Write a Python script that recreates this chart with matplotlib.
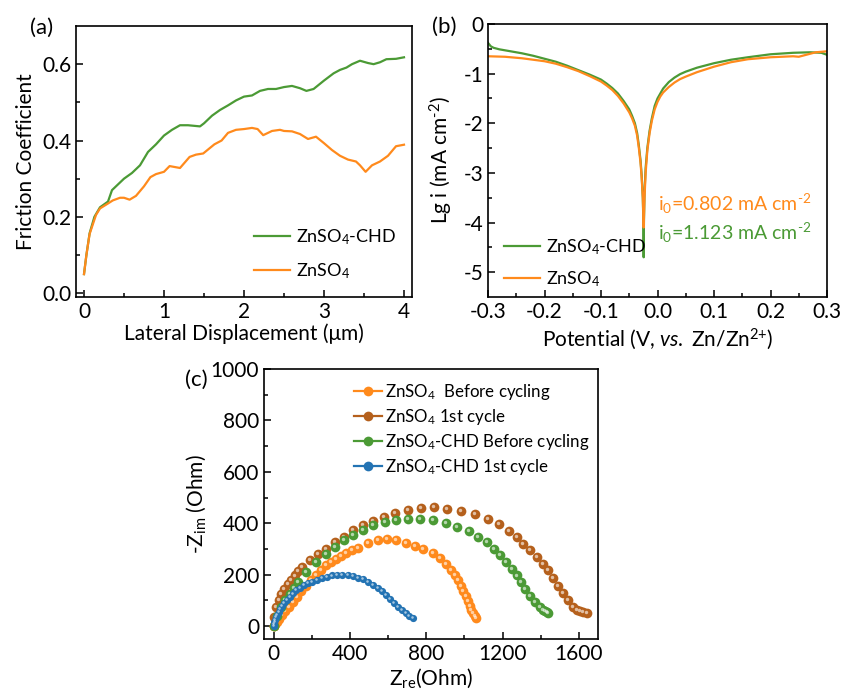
import matplotlib
matplotlib.use("Agg")
import matplotlib.pyplot as plt
import matplotlib.transforms as mtransforms
from matplotlib.lines import Line2D

plt.rcParams['font.family'] = ['Lato', 'DejaVu Sans']
plt.rcParams['mathtext.fontset'] = 'custom'
plt.rcParams['mathtext.rm'] = 'Lato'
plt.rcParams['mathtext.it'] = 'Lato:italic'
plt.rcParams['mathtext.bf'] = 'Lato:bold'

GREEN = '#4B9A35'
ORANGE = '#FF8A1C'
BROWN = '#B5601C'
BLUE = '#2373B3'

# ---------- (a) friction coefficient ----------
fa_x_green = [0, 0.03, 0.07, 0.13, 0.2, 0.3, 0.35, 0.45, 0.5, 0.6, 0.7, 0.8, 0.9, 1.0, 1.1, 1.2, 1.3,
              1.45, 1.5, 1.6, 1.7, 1.8, 1.9, 2.0, 2.1, 2.2, 2.3, 2.4, 2.5, 2.6, 2.7, 2.78, 2.87, 3.0,
              3.12, 3.2, 3.28, 3.35, 3.45, 3.55, 3.62, 3.7, 3.78, 3.9, 4.0]
fa_y_green = [0.05, 0.10, 0.157, 0.20, 0.225, 0.24, 0.27, 0.29, 0.30, 0.315, 0.335, 0.37, 0.39, 0.413,
              0.428, 0.44, 0.44, 0.437, 0.445, 0.465, 0.48, 0.492, 0.505, 0.515, 0.518, 0.53, 0.535,
              0.535, 0.54, 0.543, 0.537, 0.53, 0.535, 0.557, 0.576, 0.585, 0.591, 0.60, 0.609, 0.603,
              0.60, 0.605, 0.613, 0.614, 0.618]
fa_x_orange = [0, 0.03, 0.07, 0.15, 0.2, 0.3, 0.36, 0.45, 0.5, 0.57, 0.65, 0.75, 0.83, 0.9, 1.0, 1.07,
               1.2, 1.32, 1.4, 1.49, 1.63, 1.72, 1.8, 1.9, 2.0, 2.1, 2.17, 2.24, 2.35, 2.45, 2.5, 2.6,
               2.7, 2.8, 2.9, 3.0, 3.1, 3.2, 3.3, 3.4, 3.45, 3.52, 3.6, 3.7, 3.8, 3.9, 4.0]
fa_y_orange = [0.05, 0.10, 0.155, 0.205, 0.222, 0.235, 0.243, 0.25, 0.25, 0.245, 0.255, 0.28, 0.304,
               0.312, 0.318, 0.333, 0.328, 0.357, 0.363, 0.366, 0.39, 0.40, 0.42, 0.428, 0.43, 0.433,
               0.43, 0.414, 0.425, 0.428, 0.425, 0.424, 0.417, 0.404, 0.41, 0.393, 0.375, 0.36, 0.35,
               0.345, 0.335, 0.318, 0.335, 0.345, 0.36, 0.385, 0.389]

# ---------- (b) Tafel ----------
fb_x_green = [-0.3, -0.295, -0.29, -0.28, -0.26, -0.24, -0.22, -0.2, -0.18, -0.16, -0.14, -0.12, -0.1,
              -0.09, -0.08, -0.07, -0.06, -0.05, -0.045, -0.04, -0.036, -0.033, -0.03, -0.028, -0.026,
              -0.025, -0.0245, -0.024, -0.023, -0.021, -0.018, -0.014, -0.01, -0.005, 0.0, 0.005, 0.01,
              0.02, 0.03, 0.04, 0.05, 0.07, 0.1, 0.13, 0.16, 0.2, 0.24, 0.27, 0.29, 0.3]
fb_y_green = [-0.38, -0.45, -0.48, -0.51, -0.55, -0.59, -0.64, -0.70, -0.76, -0.84, -0.93, -1.02, -1.12,
              -1.2, -1.29, -1.4, -1.55, -1.72, -1.85, -2.0, -2.2, -2.45, -2.75, -3.05, -3.5,
              -4.0, -4.7, -4.0, -3.4, -2.9, -2.5, -2.15, -1.9, -1.65, -1.5, -1.4, -1.3,
              -1.17, -1.08, -1.01, -0.96, -0.88, -0.79, -0.72, -0.67, -0.61, -0.58, -0.57, -0.58, -0.62]
fb_x_orange = [-0.3, -0.27, -0.24, -0.2, -0.18, -0.16, -0.14, -0.12, -0.1, -0.09, -0.08, -0.07, -0.06,
               -0.05, -0.045, -0.04, -0.036, -0.033, -0.03, -0.028, -0.026, -0.0245, -0.023, -0.021,
               -0.018, -0.014, -0.01, -0.005, 0.0, 0.005, 0.01, 0.02, 0.03, 0.04, 0.05, 0.07, 0.1,
               0.13, 0.16, 0.2, 0.24, 0.25, 0.26, 0.28, 0.3]
fb_y_orange = [-0.65, -0.66, -0.69, -0.75, -0.8, -0.87, -0.95, -1.05, -1.16, -1.24, -1.33, -1.45, -1.6,
               -1.78, -1.9, -2.05, -2.25, -2.5, -2.8, -3.1, -3.5, -4.1, -3.5, -3.0,
               -2.55, -2.2, -1.95, -1.72, -1.57, -1.46, -1.38, -1.27, -1.18, -1.11, -1.06, -0.97, -0.86,
               -0.77, -0.71, -0.67, -0.65, -0.66, -0.63, -0.57, -0.55]

# ---------- (c) Nyquist ----------
c_x_orange = [0, 8, 18, 30, 45, 62, 80, 100, 122, 145, 170, 196, 222, 249, 276, 303, 329, 355, 381,
              410, 442, 495, 547, 596, 643, 696, 743, 783, 836, 871, 906, 930, 950, 967, 982, 995,
              1007, 1018, 1028, 1037, 1046, 1055, 1063]
c_y_orange = [0, 8, 17, 28, 42, 58, 75, 94, 114, 135, 157, 178, 198, 218, 237, 250, 262, 274, 284,
              295, 303, 325, 335, 339, 335, 322, 313, 300, 283, 265, 240, 218, 198, 178, 158, 138,
              118, 98, 80, 64, 50, 40, 33]
c_x_brown = [0, 5, 14, 26, 40, 57, 75, 92, 110, 130, 150, 189, 233, 276, 320, 367, 416, 469, 521, 579,
             638, 705, 771, 841, 911, 984, 1058, 1124, 1182, 1234, 1273, 1308, 1343, 1378, 1413, 1439,
             1465, 1492, 1518, 1544, 1570, 1590, 1605, 1622, 1640]
c_y_brown = [0, 37, 74, 100, 126, 146, 165, 181, 197, 214, 230, 256, 282, 301, 327, 347, 373, 392, 408,
             425, 440, 451, 460, 464, 457, 447, 438, 418, 396, 370, 347, 321, 295, 269, 240, 217, 188,
             158, 130, 100, 74, 64, 58, 54, 51]
c_x_green = [0, 20, 40, 62, 84, 106, 128, 171, 224, 276, 320, 367, 416, 469, 521, 582, 640, 705, 766,
             836, 901, 963, 1025, 1072, 1116, 1154, 1186, 1217, 1247, 1273, 1296, 1317, 1343, 1369,
             1395, 1410, 1421, 1432, 1439]
c_y_green = [0, 38, 74, 100, 126, 149, 171, 210, 249, 282, 308, 334, 353, 375, 392, 405, 414, 418, 418,
             414, 403, 386, 369, 347, 327, 301, 275, 249, 223, 197, 171, 145, 119, 94, 74, 64, 58, 54,
             51]
c_x_blue = [0, 2, 5, 9, 14, 20, 27, 35, 45, 57, 70, 85, 101, 119, 138, 158, 180, 203, 227, 252, 278,
            305, 333, 360, 388, 416, 444, 471, 497, 521, 545, 568, 591, 612, 632, 652, 672, 692, 712,
            731]
c_y_blue = [0, 7, 15, 24, 34, 45, 56, 67, 79, 91, 103, 115, 127, 139, 150, 160, 167, 172, 180, 187,
            193, 197, 199, 199, 198, 195, 189, 182, 172, 161, 149, 135, 120, 105, 90, 76, 63, 51, 41,
            33]

fig = plt.figure(figsize=(8.42, 6.96), dpi=100)
W, H = 842, 696
TICK_FS = 15
LAB_FS = 15


def axes_px(left, top, right, bottom):
    return fig.add_axes([left / W, (H - bottom) / H, (right - left) / W, (bottom - top) / H])


def style(ax):
    for s in ax.spines.values():
        s.set_linewidth(1.2)
    ax.tick_params(which='both', direction='in', top=False, right=False, labelsize=TICK_FS, width=1.1)
    ax.tick_params(which='major', length=5)
    ax.tick_params(which='minor', length=3)


# (a)
axa = axes_px(76, 26, 412, 297)
axa.plot(fa_x_green, fa_y_green, color=GREEN, lw=1.6, label='ZnSO$_4$-CHD')
axa.plot(fa_x_orange, fa_y_orange, color=ORANGE, lw=1.6, label='ZnSO$_4$')
axa.set_xlim(-0.1, 4.1)
axa.set_ylim(-0.01, 0.7)
axa.set_xticks([0, 1, 2, 3, 4])
axa.set_xticks([0.5, 1.5, 2.5, 3.5], minor=True)
axa.set_yticks([0.0, 0.2, 0.4, 0.6])
axa.set_yticks([0.1, 0.3, 0.5], minor=True)
axa.set_yticklabels(['0.0', '0.2', '0.4', '0.6'])
style(axa)
axa.set_xlabel('Lateral Displacement (μm)', fontsize=LAB_FS, labelpad=1)
axa.set_ylabel('Friction Coefficient', fontsize=LAB_FS, labelpad=4)
axa.legend(loc='lower right', bbox_to_anchor=(1.0, 0.0), frameon=False, fontsize=13,
           handlelength=2.0, handletextpad=0.3, labelspacing=0.8)
fig.text(42 / W, 1 - 28 / H, '(a)', fontsize=16, ha='center', va='center')

# (b)
axb = axes_px(488, 24, 827, 297)
axb.plot(fb_x_green, fb_y_green, color=GREEN, lw=1.6, label='ZnSO$_4$-CHD')
axb.plot(fb_x_orange, fb_y_orange, color=ORANGE, lw=1.6, label='ZnSO$_4$')
axb.set_xlim(-0.3, 0.3)
axb.set_ylim(-5.5, 0)
axb.set_xticks([-0.3, -0.2, -0.1, 0.0, 0.1, 0.2, 0.3])
axb.set_xticklabels(['-0.3', '-0.2', '-0.1', '0.0', '0.1', '0.2', '0.3'])
axb.set_xticks([-0.25, -0.15, -0.05, 0.05, 0.15, 0.25], minor=True)
axb.set_yticks([0, -1, -2, -3, -4, -5])
axb.set_yticklabels(['0', '-1', '-2', '-3', '-4', '-5'])
axb.set_yticks([-0.5, -1.5, -2.5, -3.5, -4.5], minor=True)
style(axb)
axb.set_xlabel('Potential (V, $\\it{vs.}$ Zn/Zn$^{2{+}}$)', fontsize=LAB_FS, labelpad=3)
axb.set_ylabel('Lg i (mA cm$^{\u20102}$)', fontsize=LAB_FS, labelpad=6)
axb.legend(loc='lower left', bbox_to_anchor=(0.0, -0.03), frameon=False, fontsize=13,
           handlelength=2.0, handletextpad=0.3, labelspacing=0.7)
axb.text(0.0, -3.62, 'i$_0$=0.802 mA cm$^{\u20102}$', color=ORANGE, fontsize=14, va='center')
axb.text(0.0, -4.2, 'i$_0$=1.123 mA cm$^{\u20102}$', color=GREEN, fontsize=14, va='center')
fig.text(444 / W, 1 - 27 / H, '(b)', fontsize=16, ha='center', va='center')

# (c)
axc = axes_px(264, 369, 598, 639)
series = [
    (c_x_orange, c_y_orange, ORANGE, 'ZnSO$_4$  Before cycling', 7.0),
    (c_x_brown, c_y_brown, BROWN, 'ZnSO$_4$ 1st cycle', 7.0),
    (c_x_green, c_y_green, GREEN, 'ZnSO$_4$-CHD Before cycling', 7.0),
    (c_x_blue, c_y_blue, BLUE, 'ZnSO$_4$-CHD 1st cycle', 5.2),
]
hl = mtransforms.offset_copy(axc.transData, fig=fig, x=-0.7, y=0.7, units='points')
handles = []
for xs, ys, col, lab, ms in series:
    axc.plot(xs, ys, linestyle='none', marker='o', markersize=ms, markeredgewidth=0,
             markerfacecolor=col)
    axc.plot(xs, ys, linestyle='none', marker='o', markersize=ms * 0.35, markeredgewidth=0,
             markerfacecolor='white', alpha=0.6, transform=hl)
    handles.append(Line2D([], [], color=col, lw=1.6, marker='o', markersize=7,
                          markeredgewidth=0, markerfacecolor=col, label=lab))
axc.set_xlim(-50, 1700)
axc.set_ylim(-50, 1000)
axc.set_xticks([0, 400, 800, 1200, 1600])
axc.set_xticks([200, 600, 1000, 1400], minor=True)
axc.set_yticks([0, 200, 400, 600, 800, 1000])
axc.set_yticks([100, 300, 500, 700, 900], minor=True)
style(axc)
axc.set_xlabel('Z$_\\mathrm{re}$(Ohm)', fontsize=LAB_FS, labelpad=2)
axc.set_ylabel('-Z$_\\mathrm{im}$ (Ohm)', fontsize=LAB_FS, labelpad=2)
axc.legend(handles=handles, loc='upper right', bbox_to_anchor=(1.0, 0.985), frameon=False,
           fontsize=12.2, handlelength=1.6, handletextpad=0.2, labelspacing=0.3, borderaxespad=0.1)
fig.text(196 / W, 1 - 380 / H, '(c)', fontsize=16, ha='center', va='center')

fig.savefig('out.png', dpi=100)
